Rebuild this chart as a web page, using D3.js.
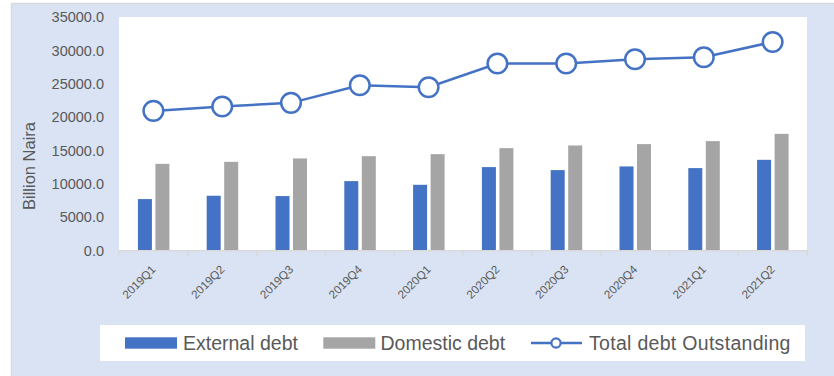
<!DOCTYPE html>
<html>
<head>
<meta charset="utf-8">
<script src="https://cdn.jsdelivr.net/npm/d3@7"></script>
<style>
  html, body { margin: 0; padding: 0; background: #ffffff; }
  svg { display: block; font-family: "Liberation Sans", Arial, sans-serif; }
</style>
</head>
<body>
<svg id="chart" width="834" height="376"></svg>
<script>
// Quarterly public debt, billion naira
const quarters = ["2019Q1", "2019Q2", "2019Q3", "2019Q4", "2020Q1",
                  "2020Q2", "2020Q3", "2020Q4", "2021Q1", "2021Q2"];
const externalDebt = [7730, 8230, 8180, 10420, 9870, 12520, 12070, 12620, 12370, 13610];
const domesticDebt = [13010, 13310, 13820, 14160, 14460, 15360, 15760, 15960, 16410, 17500];
const totalDebt = [20940, 21600, 22140, 24780, 24480, 28030, 28030, 28670, 28970, 31260];
const yTicks = [0, 5000, 10000, 15000, 20000, 25000, 30000, 35000];
const seriesNames = ["External debt", "Domestic debt", "Total debt Outstanding"];

const BLUE = "#4472c4", GRAY = "#a5a5a5", TEXT = "#595959", AXIS = "#d9d9d9";

const svg = d3.select("#chart");

// chart area background with thin border
svg.append("rect")
  .attr("x", 11.5).attr("y", 3.5)
  .attr("width", 840).attr("height", 380)
  .attr("fill", "#dae3f3")
  .attr("stroke", AXIS).attr("stroke-width", 1.5);

const plot = { left: 119, right: 807, top: 17, bottom: 250.7 };

svg.append("rect")
  .attr("x", plot.left).attr("y", plot.top)
  .attr("width", plot.right - plot.left)
  .attr("height", plot.bottom - plot.top)
  .attr("fill", "#ffffff");

const x0 = d3.scaleBand().domain(quarters).range([plot.left, plot.right]).padding(0);
const bw = x0.bandwidth();
const x1 = d3.scaleBand().domain(["ext", "dom"])
  .range([bw / 2 - 15.5, bw / 2 + 16]).paddingInner(0.2);
const y = d3.scaleLinear().domain([0, 35000]).range([plot.bottom, plot.top]);

// y axis labels
const yAxis = svg.append("g").attr("transform", `translate(${plot.left - 15},0)`)
  .call(d3.axisLeft(y).tickValues(yTicks).tickFormat(d3.format(".1f")).tickSize(0).tickPadding(0));
yAxis.select(".domain").remove();
yAxis.selectAll("text")
  .attr("fill", TEXT).style("font-size", "14.5px")
  .attr("font-family", "Liberation Sans, Arial, sans-serif");

// y axis title
svg.append("text")
  .attr("transform", "translate(35,166) rotate(-90)")
  .attr("text-anchor", "middle")
  .attr("fill", TEXT).style("font-size", "16.5px")
  .text("Billion Naira");

// bars
const rows = quarters.map((q, i) => ({ q, ext: externalDebt[i], dom: domesticDebt[i], total: totalDebt[i] }));
const groups = svg.append("g").selectAll("g").data(rows).join("g")
  .attr("transform", d => `translate(${x0(d.q)},0)`);
groups.append("rect")
  .attr("x", x1("ext")).attr("width", x1.bandwidth())
  .attr("y", d => y(d.ext)).attr("height", d => y(0) - y(d.ext))
  .attr("fill", BLUE);
groups.append("rect")
  .attr("x", x1("dom")).attr("width", x1.bandwidth())
  .attr("y", d => y(d.dom)).attr("height", d => y(0) - y(d.dom))
  .attr("fill", GRAY);

// x axis: baseline, tick marks at category boundaries, rotated labels
const xAxis = svg.append("g").attr("transform", `translate(0,${plot.bottom})`)
  .call(d3.axisBottom(x0).tickSize(0).tickFormat(""));
xAxis.select(".domain").attr("stroke", AXIS).attr("stroke-width", 1.5)
  .attr("d", `M${plot.left},0H${plot.right}`);
xAxis.selectAll(".tick").remove();
svg.append("g").selectAll("line")
  .data(d3.range(quarters.length + 1))
  .join("line")
  .attr("x1", i => plot.left + i * bw).attr("x2", i => plot.left + i * bw)
  .attr("y1", plot.bottom).attr("y2", plot.bottom + 5)
  .attr("stroke", AXIS).attr("stroke-width", 1.5);

svg.append("g").selectAll("text").data(quarters).join("text")
  .attr("transform", q => `translate(${x0(q) + bw / 2 + 3},${plot.bottom + 19.5}) rotate(-45)`)
  .attr("text-anchor", "end")
  .attr("fill", TEXT).style("font-size", "11.6px")
  .text(q => q);

// total debt line with hollow markers
const line = d3.line().x(d => x0(d.q) + bw / 2).y(d => y(d.total));
svg.append("path").datum(rows)
  .attr("d", line).attr("fill", "none")
  .attr("stroke", BLUE).attr("stroke-width", 2.5);
svg.append("g").selectAll("circle").data(rows).join("circle")
  .attr("cx", d => x0(d.q) + bw / 2).attr("cy", d => y(d.total))
  .attr("r", 9.8).attr("fill", "#ffffff")
  .attr("stroke", BLUE).attr("stroke-width", 2.5);

// legend
svg.append("rect").attr("x", 100).attr("y", 325).attr("width", 705).attr("height", 36)
  .attr("fill", "#ffffff");
const lg = svg.append("g");
lg.append("rect").attr("x", 125).attr("y", 337.3).attr("width", 52).attr("height", 11.4).attr("fill", BLUE);
lg.append("text").attr("x", 183).attr("y", 349.5).attr("fill", TEXT).style("font-size", "19.5px").text(seriesNames[0]);
lg.append("rect").attr("x", 323.3).attr("y", 337.3).attr("width", 52).attr("height", 11.4).attr("fill", GRAY);
lg.append("text").attr("x", 380.5).attr("y", 349.5).attr("fill", TEXT).style("font-size", "19.5px").text(seriesNames[1]);
lg.append("line").attr("x1", 531).attr("x2", 582).attr("y1", 343).attr("y2", 343)
  .attr("stroke", BLUE).attr("stroke-width", 2.5);
lg.append("circle").attr("cx", 556).attr("cy", 343).attr("r", 4.6)
  .attr("fill", "#ffffff").attr("stroke", BLUE).attr("stroke-width", 2.2);
lg.append("text").attr("x", 589).attr("y", 349.5).attr("fill", TEXT).style("font-size", "19.5px")
  .attr("letter-spacing", "0.3px").text(seriesNames[2]);
</script>
</body>
</html>
